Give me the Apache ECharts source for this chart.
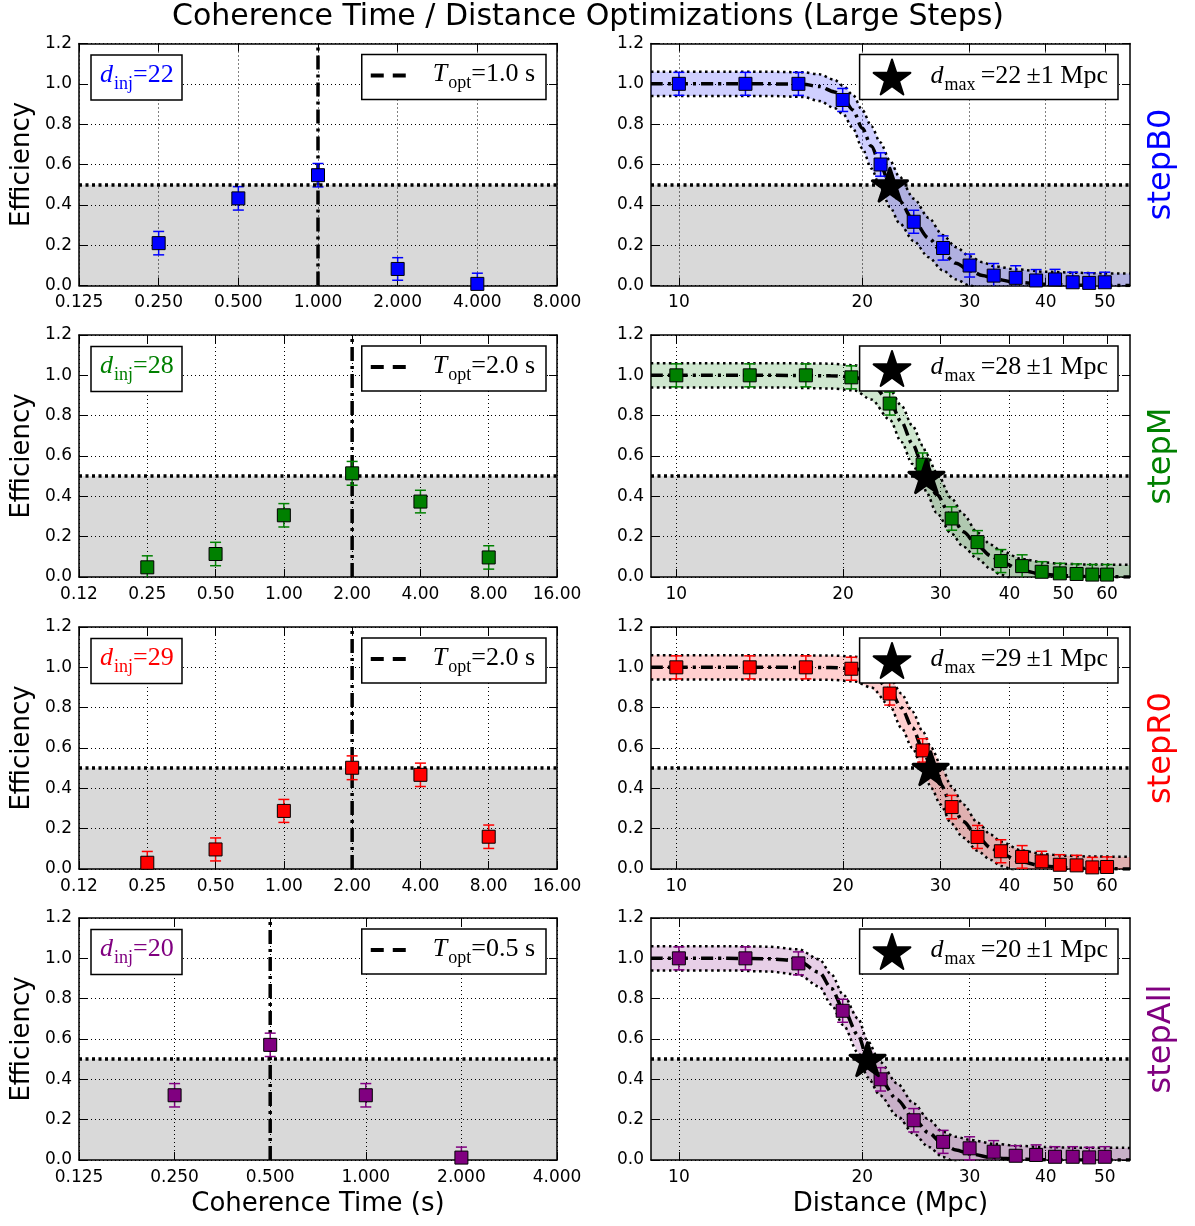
<!DOCTYPE html>
<html>
<head>
<meta charset="utf-8">
<script src="https://cdn.jsdelivr.net/npm/echarts@6/dist/echarts.min.js"></script>
<style>
html,body{margin:0;padding:0;background:#fff;}
#c{width:1195px;height:1226px;}
</style>
</head>
<body>
<div id="c"></div>
<script>
// ---------------- DATA ----------------
const panelNames = ['stepB0', 'stepM', 'stepR0', 'stepAll'];
const panelColors = ['#0000ff', '#008000', '#ff0000', '#800080'];
const dInj = [22, 28, 29, 20];
const tOpt = [1.0, 2.0, 2.0, 0.5];
const tOptLabels = ['1.0', '2.0', '2.0', '0.5'];
const dMax = [22, 28, 29, 20];
const dMaxErr = [1, 1, 1, 1];
const starDist = [22.2, 28.3, 28.8, 20.4];
const starEff = [0.5, 0.5, 0.5, 0.5];

const effTicks = [0, 0.2, 0.4, 0.6, 0.8, 1.0, 1.2];
const effLabels = ['0.0', '0.2', '0.4', '0.6', '0.8', '1.0', '1.2'];

// coherence-time axes
const timeTicksB0 = [0.125, 0.25, 0.5, 1, 2, 4, 8];
const timeLabelsB0 = ['0.125', '0.250', '0.500', '1.000', '2.000', '4.000', '8.000'];
const timeTicksM = [0.125, 0.25, 0.5, 1, 2, 4, 8, 16];
const timeLabelsM = ['0.12', '0.25', '0.50', '1.00', '2.00', '4.00', '8.00', '16.00'];
const timeTicksR0 = [0.125, 0.25, 0.5, 1, 2, 4, 8, 16];
const timeLabelsR0 = ['0.12', '0.25', '0.50', '1.00', '2.00', '4.00', '8.00', '16.00'];
const timeTicksAll = [0.125, 0.25, 0.5, 1, 2, 4];
const timeLabelsAll = ['0.125', '0.250', '0.500', '1.000', '2.000', '4.000'];

// coherence-time efficiencies
const timeB0 = [0.25, 0.5, 1, 2, 4];
const effTimeB0 = [0.21, 0.432, 0.547, 0.082, 0.008];
const errTimeB0 = [0.058, 0.058, 0.058, 0.056, 0.053];
const timeM = [0.25, 0.5, 1, 2, 4, 8];
const effTimeM = [0.048, 0.114, 0.306, 0.514, 0.374, 0.097];
const errTimeM = [0.057, 0.058, 0.058, 0.059, 0.056, 0.058];
const timeR0 = [0.25, 0.5, 1, 2, 4, 8];
const effTimeR0 = [0.031, 0.097, 0.288, 0.502, 0.467, 0.16];
const errTimeR0 = [0.056, 0.057, 0.057, 0.059, 0.058, 0.058];
const timeAll = [0.25, 0.5, 1, 2];
const effTimeAll = [0.321, 0.571, 0.321, 0.012];
const errTimeAll = [0.058, 0.058, 0.058, 0.052];

// distance axes
const distTicksB0 = [10, 20, 30, 40, 50];
const distLabelsB0 = ['10', '20', '30', '40', '50'];
const distTicksM = [10, 20, 30, 40, 50, 60];
const distLabelsM = ['10', '20', '30', '40', '50', '60'];
const distTicksR0 = [10, 20, 30, 40, 50, 60];
const distLabelsR0 = ['10', '20', '30', '40', '50', '60'];
const distTicksAll = [10, 20, 30, 40, 50];
const distLabelsAll = ['10', '20', '30', '40', '50'];
const distRangeB0 = [9, 55];
const distRangeM = [9, 66];
const distRangeR0 = [9, 66];
const distRangeAll = [9, 55];

// distance efficiencies
const distB0 = [10, 12.86, 15.71, 18.57, 21.43, 24.29, 27.14, 30, 32.86, 35.71, 38.57, 41.43, 44.29, 47.14, 50];
const effDistB0 = [1.0, 1.0, 1.0, 0.92, 0.60, 0.316, 0.186, 0.099, 0.049, 0.038, 0.025, 0.03, 0.016, 0.013, 0.016];
const errDistB0 = [0.057, 0.057, 0.057, 0.057, 0.058, 0.057, 0.06, 0.057, 0.06, 0.06, 0.054, 0.05, 0.05, 0.05, 0.05];
const distM = [10, 13.57, 17.14, 20.71, 24.29, 27.86, 31.43, 35, 38.57, 42.14, 45.71, 49.29, 52.86, 56.43, 60];
const effDistM = [1.0, 1.0, 1.0, 0.99, 0.86, 0.557, 0.29, 0.173, 0.079, 0.054, 0.026, 0.018, 0.015, 0.012, 0.012];
const errDistM = [0.057, 0.057, 0.057, 0.057, 0.057, 0.058, 0.058, 0.057, 0.057, 0.056, 0.05, 0.05, 0.05, 0.05, 0.05];
const distR0 = [10, 13.57, 17.14, 20.71, 24.29, 27.86, 31.43, 35, 38.57, 42.14, 45.71, 49.29, 52.86, 56.43, 60];
const effDistR0 = [1.0, 1.0, 1.0, 0.993, 0.87, 0.588, 0.307, 0.159, 0.088, 0.06, 0.038, 0.021, 0.018, 0.008, 0.01];
const errDistR0 = [0.057, 0.057, 0.057, 0.057, 0.057, 0.058, 0.058, 0.057, 0.057, 0.056, 0.05, 0.05, 0.05, 0.05, 0.05];
const distAll = [10, 12.86, 15.71, 18.57, 21.43, 24.29, 27.14, 30, 32.86, 35.71, 38.57, 41.43, 44.29, 47.14, 50];
const effDistAll = [1.0, 1.0, 0.975, 0.74, 0.40, 0.197, 0.09, 0.058, 0.041, 0.021, 0.025, 0.016, 0.016, 0.013, 0.016];
const errDistAll = [0.057, 0.057, 0.057, 0.057, 0.058, 0.058, 0.057, 0.057, 0.055, 0.05, 0.05, 0.05, 0.05, 0.05, 0.05];

// fitted curves: centre, upper and lower band edges
const fitDistB0 = [9, 12, 14, 16, 17, 18, 18.6, 19.3, 20, 20.7, 21.4, 22.2, 23, 24.3, 25.7, 27.1, 28.5, 30, 31.5, 33, 35.7, 40, 45, 50, 55];
const fitMidB0 = [1.0, 1.0, 1.0, 0.998, 0.987, 0.96, 0.93, 0.87, 0.78, 0.69, 0.60, 0.50, 0.42, 0.32, 0.235, 0.16, 0.11, 0.074, 0.05, 0.032, 0.016, 0.006, 0.002, 0.0, 0.0];
const fitHiB0 = [1.06, 1.06, 1.06, 1.057, 1.047, 1.02, 0.99, 0.945, 0.87, 0.79, 0.71, 0.62, 0.54, 0.43, 0.335, 0.25, 0.19, 0.145, 0.115, 0.095, 0.08, 0.068, 0.063, 0.06, 0.06];
const fitLoB0 = [0.94, 0.94, 0.94, 0.935, 0.915, 0.88, 0.85, 0.78, 0.68, 0.58, 0.49, 0.39, 0.31, 0.22, 0.14, 0.075, 0.03, 0.0, -0.02, -0.035, -0.05, -0.055, -0.058, -0.06, -0.06];

const fitDistM = [9, 15, 19, 21, 22.5, 24.3, 25.5, 26.7, 27.9, 28.3, 29.5, 31.4, 33, 35, 37, 38.6, 42, 46, 50, 56, 66];
const fitMidM = [1.0, 1.0, 0.998, 0.99, 0.96, 0.87, 0.77, 0.66, 0.55, 0.50, 0.41, 0.30, 0.225, 0.155, 0.105, 0.075, 0.033, 0.013, 0.006, 0.002, 0.0];
const fitHiM = [1.06, 1.06, 1.058, 1.05, 1.02, 0.93, 0.85, 0.75, 0.65, 0.61, 0.52, 0.39, 0.31, 0.22, 0.16, 0.13, 0.09, 0.072, 0.065, 0.062, 0.06];
const fitLoM = [0.94, 0.94, 0.935, 0.925, 0.88, 0.78, 0.67, 0.56, 0.46, 0.42, 0.32, 0.215, 0.15, 0.09, 0.04, 0.01, -0.03, -0.05, -0.055, -0.058, -0.06];

const fitDistR0 = [9, 15, 19, 21, 22.5, 24.3, 25.5, 26.7, 27.9, 28.9, 30, 31.4, 33, 35, 37, 38.6, 42, 46, 50, 56, 66];
const fitMidR0 = [1.0, 1.0, 0.999, 0.993, 0.97, 0.89, 0.80, 0.70, 0.59, 0.50, 0.42, 0.32, 0.235, 0.16, 0.105, 0.075, 0.035, 0.015, 0.007, 0.002, 0.0];
const fitHiR0 = [1.06, 1.06, 1.059, 1.053, 1.03, 0.95, 0.87, 0.78, 0.68, 0.60, 0.52, 0.41, 0.32, 0.23, 0.17, 0.135, 0.092, 0.074, 0.066, 0.062, 0.06];
const fitLoR0 = [0.94, 0.94, 0.938, 0.93, 0.90, 0.81, 0.70, 0.60, 0.49, 0.40, 0.32, 0.225, 0.155, 0.09, 0.045, 0.015, -0.025, -0.048, -0.055, -0.058, -0.06];

const fitDistAll = [9, 12, 14, 15.7, 17, 17.8, 18.6, 19.7, 20.4, 21.4, 22.8, 24.3, 25.7, 27.1, 28.5, 30, 33, 36, 40, 45, 55];
const fitMidAll = [1.0, 1.0, 0.998, 0.987, 0.93, 0.85, 0.75, 0.617, 0.50, 0.40, 0.30, 0.205, 0.135, 0.08, 0.05, 0.03, 0.01, 0.004, 0.001, 0.0, 0.0];
const fitHiAll = [1.06, 1.06, 1.058, 1.045, 0.995, 0.92, 0.82, 0.70, 0.59, 0.485, 0.38, 0.28, 0.20, 0.14, 0.115, 0.1, 0.08, 0.07, 0.064, 0.061, 0.06];
const fitLoAll = [0.94, 0.94, 0.935, 0.92, 0.86, 0.77, 0.67, 0.53, 0.41, 0.32, 0.22, 0.13, 0.065, 0.015, -0.01, -0.03, -0.05, -0.055, -0.058, -0.06, -0.06];

// ---------------- LAYOUT / STYLE ----------------
const SANS = '"DejaVu Sans", Verdana, sans-serif';
const SERIF = '"Liberation Serif", "DejaVu Serif", serif';
const ROW_TOP = [43.5, 335, 627, 918];
const ROW_H = 242;
const LEFT_X = 79, LEFT_W = 478, RIGHT_X = 651, RIGHT_W = 479;
const STAR = 'path://M0,-1 L0.2245,-0.309 L0.951,-0.309 L0.363,0.118 L0.588,0.809 L0,0.382 L-0.588,0.809 L-0.363,0.118 L-0.951,-0.309 L-0.2245,-0.309 Z';
const DASH_ICON = 'path://M0,0 L13,0 L13,4 L0,4 Z M22,0 L35,0 L35,4 L22,4 Z';

const panels = [
  {time: timeB0, effT: effTimeB0, errT: errTimeB0, tTicks: timeTicksB0, tLabels: timeLabelsB0,
   dist: distB0, effD: effDistB0, errD: errDistB0, dTicks: distTicksB0, dLabels: distLabelsB0, dRange: distRangeB0,
   fD: fitDistB0, fM: fitMidB0, fH: fitHiB0, fL: fitLoB0},
  {time: timeM, effT: effTimeM, errT: errTimeM, tTicks: timeTicksM, tLabels: timeLabelsM,
   dist: distM, effD: effDistM, errD: errDistM, dTicks: distTicksM, dLabels: distLabelsM, dRange: distRangeM,
   fD: fitDistM, fM: fitMidM, fH: fitHiM, fL: fitLoM},
  {time: timeR0, effT: effTimeR0, errT: errTimeR0, tTicks: timeTicksR0, tLabels: timeLabelsR0,
   dist: distR0, effD: effDistR0, errD: errDistR0, dTicks: distTicksR0, dLabels: distLabelsR0, dRange: distRangeR0,
   fD: fitDistR0, fM: fitMidR0, fH: fitHiR0, fL: fitLoR0},
  {time: timeAll, effT: effTimeAll, errT: errTimeAll, tTicks: timeTicksAll, tLabels: timeLabelsAll,
   dist: distAll, effD: effDistAll, errD: errDistAll, dTicks: distTicksAll, dLabels: distLabelsAll, dRange: distRangeAll,
   fD: fitDistAll, fM: fitMidAll, fH: fitHiAll, fL: fitLoAll}
];

function labelFor(v, ticks, labels) {
  for (let i = 0; i < ticks.length; i++) {
    if (Math.abs(v - ticks[i]) <= 1e-6 * Math.max(1, Math.abs(ticks[i]))) return labels[i];
  }
  return '';
}

function alpha(hex, a) {
  const n = parseInt(hex.slice(1), 16);
  return 'rgba(' + ((n >> 16) & 255) + ',' + ((n >> 8) & 255) + ',' + (n & 255) + ',' + a + ')';
}

function rich(color, gap) {
  return {
    it: {fontFamily: SERIF, fontStyle: 'italic', fontWeight: 'normal', fontSize: 26, color: color, lineHeight: 28, verticalAlign: 'top', padding: [0, 0, 0, gap || 0]},
    sub: {fontFamily: SERIF, fontWeight: 'normal', fontSize: 18, color: color, lineHeight: 18, verticalAlign: 'top', padding: [13, 0, 0, 1]},
    n: {fontFamily: SERIF, fontWeight: 'normal', fontSize: 26, color: color, lineHeight: 28, verticalAlign: 'top'}
  };
}

const grid = [], xAxis = [], yAxis = [], series = [], legend = [];
const title = [{
  text: 'Coherence Time / Distance Optimizations (Large Steps)',
  left: 172, top: 2, padding: 0,
  textStyle: {fontFamily: SANS, fontSize: 30, fontWeight: 'normal', color: '#000'}
}];

function makeX(g, base, range, ticks, labels, pos, showLabel, name) {
  return {
    type: 'log', logBase: base, gridIndex: g, position: pos, min: range[0], max: range[1],
    axisLine: {show: true, onZero: false, lineStyle: {color: '#000', width: 1.5}},
    axisTick: {show: true, inside: true, length: 8, customValues: ticks, lineStyle: {color: '#000', width: 1}},
    axisLabel: {show: showLabel, customValues: ticks, formatter: v => labelFor(v, ticks, labels),
      fontFamily: SANS, fontSize: 17, color: '#000', margin: 9, showMinLabel: true, showMaxLabel: true, hideOverlap: false},
    splitLine: {show: pos === 'bottom', lineStyle: {color: '#000', width: 1, type: [1, 3]}},
    name: name, nameLocation: 'middle', nameGap: 31, nameMoveOverlap: false,
    nameTextStyle: {fontFamily: SANS, fontSize: 26, color: '#000'}
  };
}

function makeY(g, pos, showLabel, name, color, gap) {
  return {
    type: 'value', gridIndex: g, position: pos, min: 0, max: 1.2, interval: 0.2,
    axisLine: {show: true, onZero: false, lineStyle: {color: '#000', width: 1.5}},
    axisTick: {show: true, inside: true, length: 8, lineStyle: {color: '#000', width: 1}},
    axisLabel: {show: showLabel, formatter: v => labelFor(v, effTicks, effLabels),
      fontFamily: SANS, fontSize: 17, color: '#000', margin: 7, showMinLabel: true, showMaxLabel: true},
    splitLine: {show: pos === 'left', lineStyle: {color: '#000', width: 1, type: [1, 3]}},
    name: name, nameLocation: 'middle', nameRotate: 90, nameGap: gap, nameMoveOverlap: false,
    nameTextStyle: {fontFamily: SANS, fontSize: name === 'Efficiency' ? 26 : 32, color: color}
  };
}

function errSeries(g, xs, ys, es, color) {
  return {
    type: 'custom', xAxisIndex: 2 * g, yAxisIndex: 2 * g, z: 4, silent: true,
    encode: {x: 0, y: 1},
    data: xs.map((x, i) => [x, ys[i], es[i]]),
    renderItem: function (params, api) {
      const x = api.value(0), y = api.value(1), e = api.value(2);
      const cs = params.coordSys;
      const top = api.coord([x, y + e]);
      const bot = api.coord([x, y - e]);
      const yMin = cs.y, yMax = cs.y + cs.height;
      const t = Math.max(top[1], yMin), b = Math.min(bot[1], yMax);
      const st = {stroke: color, lineWidth: 1.5};
      const ch = [{type: 'line', shape: {x1: top[0], y1: t, x2: top[0], y2: b}, style: st}];
      if (top[1] >= yMin) ch.push({type: 'line', shape: {x1: top[0] - 5.5, y1: top[1], x2: top[0] + 5.5, y2: top[1]}, style: st});
      if (bot[1] <= yMax) ch.push({type: 'line', shape: {x1: bot[0] - 5.5, y1: bot[1], x2: bot[0] + 5.5, y2: bot[1]}, style: st});
      return {type: 'group', children: ch};
    }
  };
}

function ptSeries(g, xs, ys, color) {
  return {
    type: 'scatter', xAxisIndex: 2 * g, yAxisIndex: 2 * g, z: 5, silent: true,
    symbol: 'rect', symbolSize: 13,
    itemStyle: {color: color, borderColor: '#000', borderWidth: 1, opacity: 1},
    data: xs.map((x, i) => [x, ys[i]])
  };
}

function bgSeries(g, x0) {
  return {
    type: 'line', xAxisIndex: 2 * g, yAxisIndex: 2 * g, z: 1, silent: true,
    symbol: 'none', lineStyle: {width: 0, opacity: 0},
    data: [[x0, 0]],
    markArea: {silent: true, itemStyle: {color: 'rgba(0,0,0,0.15)'}, data: [[{yAxis: 0}, {yAxis: 0.5}]]}
  };
}

const halfLine = {
  silent: true, symbol: ['none', 'none'], label: {show: false},
  lineStyle: {color: '#000', width: 3.5, type: [3, 3.5]},
  emphasis: {disabled: true},
  data: [{yAxis: 0.5}]
};

panels.forEach((p, r) => {
  const top = ROW_TOP[r];
  const last = r === panels.length - 1;
  const color = panelColors[r];
  const gL = 2 * r, gR = 2 * r + 1;
  const tRange = [p.tTicks[0], p.tTicks[p.tTicks.length - 1]];

  grid.push({left: LEFT_X, top: top, width: LEFT_W, height: ROW_H, containLabel: false, outerBoundsMode: 'none'});
  grid.push({left: RIGHT_X, top: top, width: RIGHT_W, height: ROW_H, containLabel: false, outerBoundsMode: 'none'});

  xAxis.push(makeX(gL, 2, tRange, p.tTicks, p.tLabels, 'bottom', true, last ? 'Coherence Time (s)' : ''));
  xAxis.push(makeX(gL, 2, tRange, p.tTicks, p.tLabels, 'top', false, ''));
  yAxis.push(makeY(gL, 'left', true, 'Efficiency', '#000', 44));
  yAxis.push(makeY(gL, 'right', false, '', '#000', 20));

  xAxis.push(makeX(gR, 10, p.dRange, p.dTicks, p.dLabels, 'bottom', true, last ? 'Distance (Mpc)' : ''));
  xAxis.push(makeX(gR, 10, p.dRange, p.dTicks, p.dLabels, 'top', false, ''));
  yAxis.push(makeY(gR, 'left', true, '', '#000', 44));
  yAxis.push(makeY(gR, 'right', false, panelNames[r], color, 16));

  // ----- left (coherence time) -----
  series.push(bgSeries(gL, tRange[0]));
  series.push({
    type: 'line', name: 'topt' + r, xAxisIndex: 2 * gL, yAxisIndex: 2 * gL, z: 3, silent: true,
    symbol: 'none', showSymbol: false, color: '#000',
    lineStyle: {color: '#000', width: 3.5, type: [14, 5, 3, 5]},
    data: [[tOpt[r], 0], [tOpt[r], 1.2]],
    markLine: halfLine
  });
  series.push(errSeries(gL, p.time, p.effT, p.errT, color));
  series.push(ptSeries(gL, p.time, p.effT, color));

  // ----- right (distance) -----
  series.push(bgSeries(gR, p.dRange[0]));
  const fD = p.fD, fH = p.fH, fL = p.fL;
  series.push({
    type: 'custom', xAxisIndex: 2 * gR, yAxisIndex: 2 * gR, z: 1, silent: true,
    encode: {x: 0, y: 1},
    data: fD.map((d, i) => [d, p.fM[i]]),
    renderItem: function (params, api) {
      if (params.dataIndex !== 0) return null;
      const pts = [];
      for (let i = 0; i < fD.length; i++) pts.push(api.coord([fD[i], Math.max(0, fL[i])]));
      for (let i = fD.length - 1; i >= 0; i--) pts.push(api.coord([fD[i], fH[i]]));
      return {type: 'polygon', shape: {points: pts}, style: {fill: alpha(color, 0.19)}};
    }
  });
  [fH, fL].forEach(arr => {
    series.push({
      type: 'line', xAxisIndex: 2 * gR, yAxisIndex: 2 * gR, z: 2, silent: true,
      symbol: 'none', smooth: 0.3, smoothMonotone: 'x', clip: true,
      lineStyle: {color: '#000', width: 2.5, type: [2.5, 3.5]},
      data: fD.map((d, i) => [d, arr[i]])
    });
  });
  series.push({
    type: 'line', xAxisIndex: 2 * gR, yAxisIndex: 2 * gR, z: 3, silent: true,
    symbol: 'none', smooth: 0.3, smoothMonotone: 'x', clip: true,
    lineStyle: {color: '#000', width: 3.5, type: [12, 5, 3, 5]},
    data: fD.map((d, i) => [d, p.fM[i]]),
    markLine: halfLine
  });
  series.push(errSeries(gR, p.dist, p.effD, p.errD, color));
  series.push(ptSeries(gR, p.dist, p.effD, color));
  series.push({
    type: 'scatter', name: 'dmax' + r, xAxisIndex: 2 * gR, yAxisIndex: 2 * gR, z: 6, silent: true,
    symbol: STAR, symbolSize: [35, 33], color: '#000',
    itemStyle: {color: '#000', borderColor: '#000', borderWidth: 3, borderJoin: 'round', opacity: 1},
    data: [[starDist[r], starEff[r]]]
  });

  // ----- legends / boxes -----
  title.push({
    text: '{it|d}{sub|inj}{n|=' + dInj[r] + '}',
    left: 91, top: top + 11, padding: [7.5, 9, 7.5, 9], z: 10,
    borderWidth: 1.5, borderColor: '#000', backgroundColor: '#fff',
    textStyle: {fontFamily: SERIF, fontSize: 26, fontWeight: 'normal', color: color, rich: rich(color, 0)}
  });
  legend.push({
    data: [{name: 'topt' + r, icon: DASH_ICON}], right: 1195 - 546, top: top + 11, z: 10,
    orient: 'horizontal', align: 'left', selectedMode: false,
    itemWidth: 35, itemHeight: 4, padding: [7, 11, 7, 9],
    borderWidth: 1.5, borderColor: '#000', backgroundColor: '#fff', borderRadius: 0,
    itemStyle: {color: '#000', opacity: 1},
    formatter: () => '{it|T}{sub|opt}{n|=' + tOptLabels[r] + ' s}',
    textStyle: {fontFamily: SERIF, fontSize: 26, fontWeight: 'normal', color: '#000', rich: rich('#000', 22)}
  });
  legend.push({
    data: ['dmax' + r], right: 1195 - 1118, top: top + 11, z: 10,
    orient: 'horizontal', align: 'left', selectedMode: false,
    itemWidth: 37, itemHeight: 35, padding: [4, 10, 4, 13],
    borderWidth: 1.5, borderColor: '#000', backgroundColor: '#fff', borderRadius: 0,
    itemStyle: {color: '#000', opacity: 1, borderWidth: 2, borderColor: '#000'},
    formatter: () => '{it|d}{sub|max}{n|\u2009=' + dMax[r] + '\u2009\u00b1' + dMaxErr[r] + ' Mpc}',
    textStyle: {fontFamily: SERIF, fontSize: 26, fontWeight: 'normal', color: '#000', rich: rich('#000', 15)}
  });
});

const chart = echarts.init(document.getElementById('c'), null, {renderer: 'canvas', width: 1195, height: 1226});
chart.setOption({
  backgroundColor: '#fff',
  animation: false,
  textStyle: {fontFamily: SANS},
  title: title,
  legend: legend,
  grid: grid,
  xAxis: xAxis,
  yAxis: yAxis,
  series: series
});
</script>
</body>
</html>
